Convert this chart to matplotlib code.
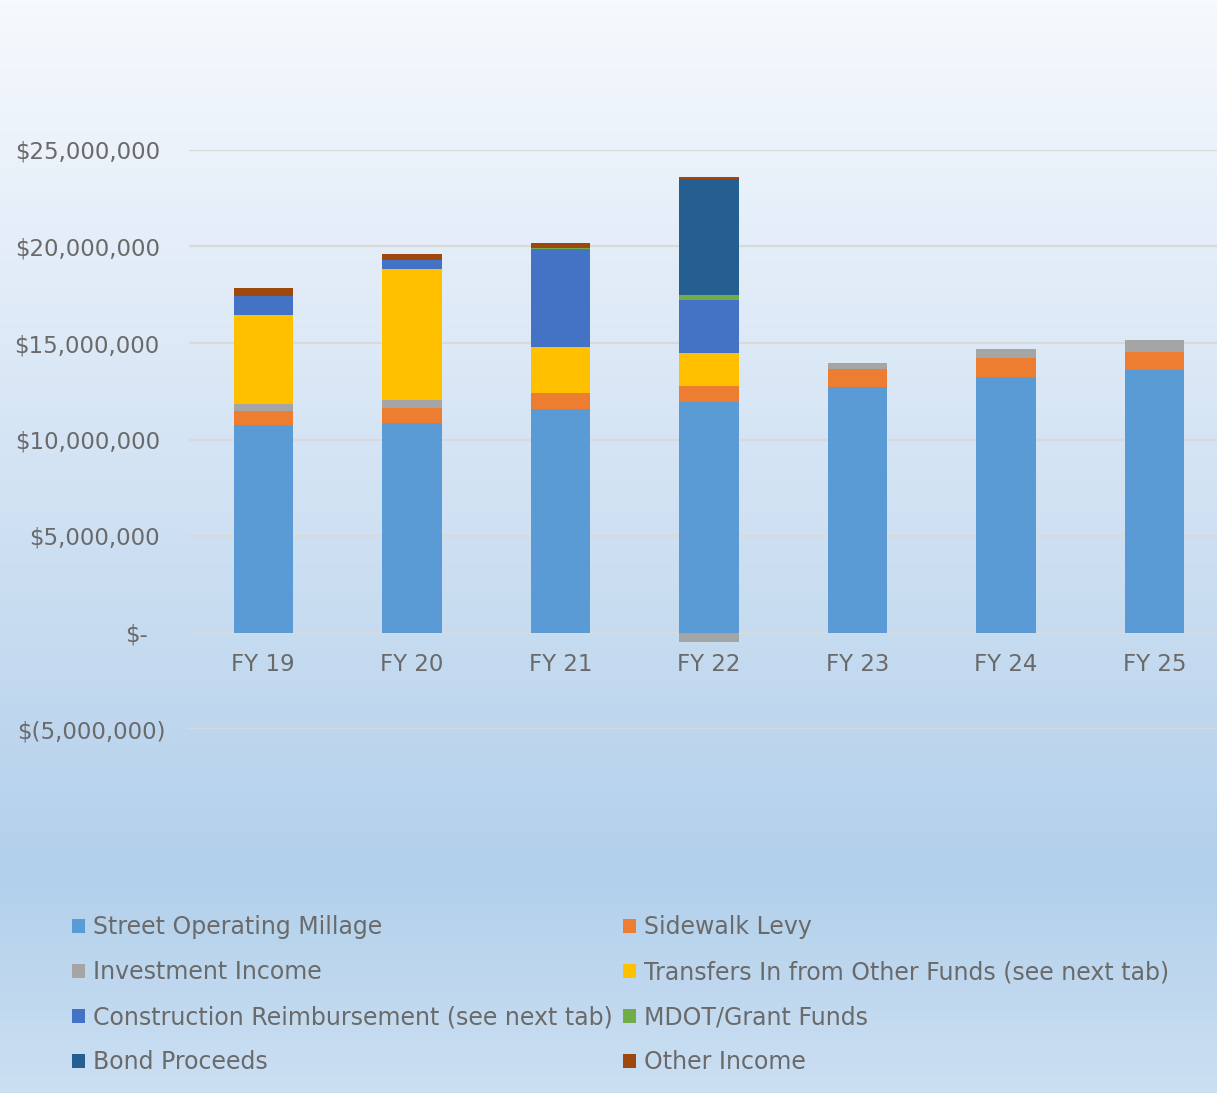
import numpy as np
import matplotlib
matplotlib.use("Agg")
import matplotlib.pyplot as plt
from matplotlib.colors import LinearSegmentedColormap
from matplotlib.ticker import FuncFormatter
from matplotlib.transforms import ScaledTranslation

years = ["FY 19", "FY 20", "FY 21", "FY 22", "FY 23", "FY 24", "FY 25"]

# revenue by source, dollars
street_millage = [10750000, 10880000, 11570000, 11930000, 12720000, 13240000, 13590000]
sidewalk_levy = [750000, 750000, 840000, 850000, 940000, 970000, 950000]
investment = [330000, 420000, 0, -470000, 290000, 500000, 620000]
transfers = [4600000, 6780000, 2370000, 1710000, 0, 0, 0]
construction = [1030000, 480000, 5090000, 2760000, 0, 0, 0]
mdot_grant = [0, 0, 50000, 230000, 0, 0, 0]
bond = [0, 0, 0, 6030000, 0, 0, 0]
other = [380000, 280000, 260000, 90000, 0, 0, 0]

labels = ["Street Operating Millage", "Sidewalk Levy", "Investment Income",
          "Transfers In from Other Funds (see next tab)",
          "Construction Reimbursement (see next tab)", "MDOT/Grant Funds",
          "Bond Proceeds", "Other Income"]
colors = ["#5B9BD5", "#ED7D31", "#A5A5A5", "#FFC000", "#4472C4", "#70AD47",
          "#255E91", "#9E480E"]
series = [street_millage, sidewalk_levy, investment, transfers, construction,
          mdot_grant, bond, other]

txt_col = "#6a6a6a"
plt.rcParams['font.family'] = ['DejaVu Sans']

fig = plt.figure(figsize=(12.17, 10.93), dpi=100)

# gradient background
bg = fig.add_axes([0, 0, 1, 1], zorder=-10)
cmap = LinearSegmentedColormap.from_list(
    "bg", [(0, "#f6f9fd"), (0.2, "#e6eff9"), (0.55, "#c9ddf1"),
           (0.8, "#b2d0eb"), (1.0, "#cbdff2")])
grad = np.linspace(0, 1, 256).reshape(-1, 1)
bg.imshow(grad, aspect="auto", cmap=cmap, extent=[0, 1, 0, 1], origin="upper")
bg.set_axis_off()

ax = fig.add_axes([189/1217, 1 - 729/1093, 1028/1217, 579/1093])
ax.set_facecolor("none")

x = np.arange(len(years))
pos_base = np.zeros(len(years))
neg_base = np.zeros(len(years))
handles = []
for vals, lab, c in zip(series, labels, colors):
    v = np.array(vals, dtype=float)
    bottom = np.where(v >= 0, pos_base, neg_base)
    b = ax.bar(x, v, 0.40, bottom=bottom, color=c, label=lab, zorder=3)
    handles.append(b)
    pos_base = pos_base + np.where(v > 0, v, 0)
    neg_base = neg_base + np.where(v < 0, v, 0)

ax.set_xlim(-0.5, 6.42)
ax.set_ylim(-5000000, 25000000)
ax.set_yticks(np.arange(-5000000, 25000001, 5000000))
ax.yaxis.grid(True, color="#d9d9d9", linewidth=1.6, zorder=0)
ax.set_axisbelow(True)
for s in ax.spines.values():
    s.set_visible(False)


def money(v, pos):
    if v == 0:
        return "$-"
    if v < 0:
        return "$({:,.0f})".format(-v)
    return "${:,.0f}".format(v)


ax.yaxis.set_major_formatter(FuncFormatter(money))
ax.spines['bottom'].set_position(('data', 0))
ax.set_xticks(x)
ax.set_xticklabels(years)
ax.tick_params(axis="x", length=0, pad=15, labelsize=16.5, labelcolor=txt_col)
ax.tick_params(axis="y", length=0, pad=21, labelsize=16.5, labelcolor=txt_col)

# legend in two columns, row-major like the original
left = [handles[i] for i in (0, 2, 4, 6)]
right = [handles[i] for i in (1, 3, 5, 7)]
kw = dict(frameon=False, fontsize=17, labelcolor=txt_col, handlelength=0.55,
          handleheight=0.55, handletextpad=0.35, labelspacing=0.89,
          borderpad=0, borderaxespad=0, loc="upper left")
leg1 = fig.legend(left, [labels[i] for i in (0, 2, 4, 6)],
                  bbox_to_anchor=(72/1217, 1 - 915/1093), **kw)
leg2 = fig.legend(right, [labels[i] for i in (1, 3, 5, 7)],
                  bbox_to_anchor=(623/1217, 1 - 915/1093), **kw)

# accounting-style alignment of the zero and negative labels
fig.canvas.draw()
for lbl in ax.get_yticklabels():
    t = lbl.get_text()
    if t == "$-":
        lbl.set_transform(lbl.get_transform() + ScaledTranslation(-12/100, 0, fig.dpi_scale_trans))
    elif t.startswith("$("):
        lbl.set_transform(lbl.get_transform() + ScaledTranslation(6/100, 0, fig.dpi_scale_trans))

fig.savefig("out.png", dpi=100)
